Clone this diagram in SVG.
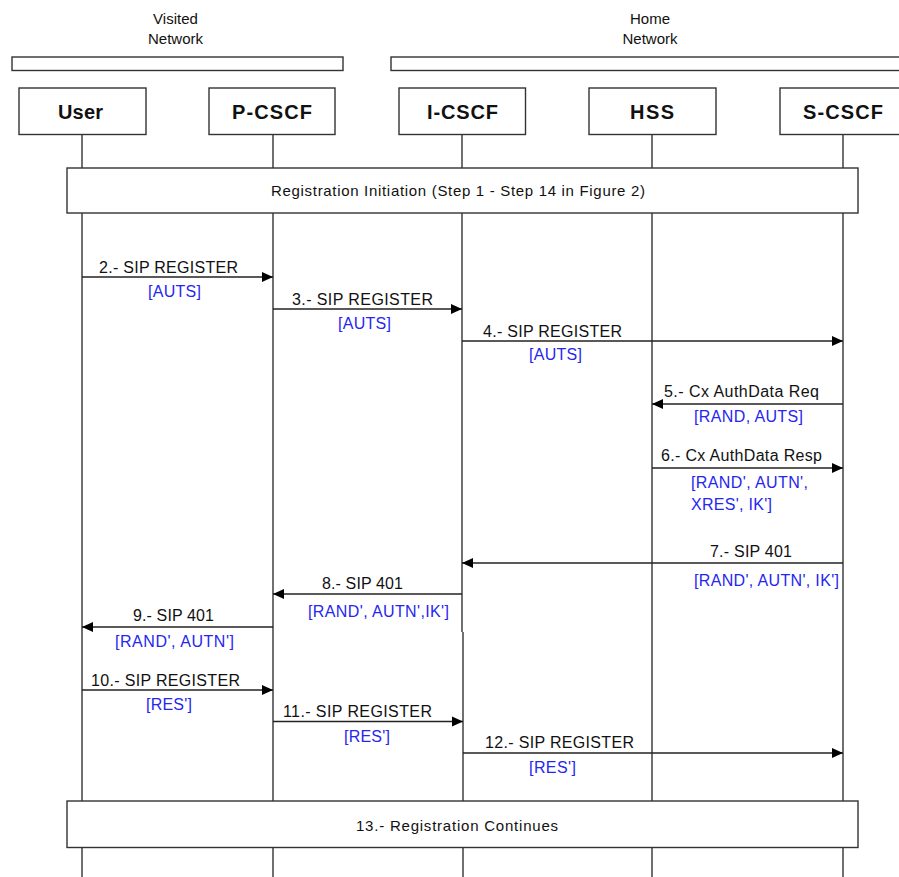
<svg xmlns="http://www.w3.org/2000/svg" width="899" height="877" viewBox="0 0 899 877">
<defs>
<marker id="ah" markerUnits="userSpaceOnUse" markerWidth="12" markerHeight="12" viewBox="0 0 12 12" refX="11" refY="6" orient="auto">
<path d="M0,1 L11,6 L0,11 Z" fill="#000"/>
</marker>
<style>
.box{fill:#fff;stroke:#333;stroke-width:1.4}
.life{stroke:#333;stroke-width:1.4;fill:none}
.msg{stroke:#222;stroke-width:1.4;fill:none;marker-end:url(#ah)}
.t{font-family:"Liberation Sans",Arial,sans-serif;font-size:16px;fill:#111}
.s{font-family:"Liberation Sans",Arial,sans-serif;font-size:15px;fill:#111}
.b{font-family:"Liberation Sans",Arial,sans-serif;font-size:16px;fill:#2626f0}
.n{font-family:"Liberation Sans",Arial,sans-serif;font-size:20px;font-weight:bold;fill:#111}
</style>
</defs>
<rect width="899" height="877" fill="#fff"/>

<g id="networks">
<text class="s" x="175.5" y="24" text-anchor="middle">Visited</text>
<text class="s" x="175.5" y="43.5" text-anchor="middle">Network</text>
<text class="s" x="650" y="24" text-anchor="middle">Home</text>
<text class="s" x="650" y="43.5" text-anchor="middle">Network</text>
<rect class="box" x="12" y="57" width="331" height="13.5"/>
<rect class="box" x="391" y="57" width="530" height="13.5"/>
</g>

<g id="lifelines">
<line class="life" x1="82" y1="134" x2="82" y2="877"/>
<line class="life" x1="273" y1="134" x2="273" y2="877"/>
<line class="life" x1="462" y1="134" x2="462" y2="632"/>
<line class="life" x1="463" y1="632" x2="463" y2="877"/>
<line class="life" x1="652" y1="134" x2="652" y2="877"/>
<line class="life" x1="843" y1="134" x2="843" y2="877"/>
</g>

<g id="User"><rect class="box" x="19" y="88" width="127" height="46.5"/><text class="n" x="58" y="118.5" textLength="45" lengthAdjust="spacing">User</text></g>
<g id="P-CSCF"><rect class="box" x="209" y="88" width="126" height="46.5"/><text class="n" x="232" y="118.5" textLength="80" lengthAdjust="spacing">P-CSCF</text></g>
<g id="I-CSCF"><rect class="box" x="399" y="88" width="126.5" height="46.5"/><text class="n" x="427" y="118.5" textLength="71" lengthAdjust="spacing">I-CSCF</text></g>
<g id="HSS"><rect class="box" x="589" y="88" width="127" height="46.5"/><text class="n" x="630" y="118.5" textLength="44" lengthAdjust="spacing">HSS</text></g>
<g id="S-CSCF"><rect class="box" x="780" y="88" width="130" height="46.5"/><text class="n" x="803" y="118.5" textLength="80" lengthAdjust="spacing">S-CSCF</text></g>

<g id="reg-init"><rect class="box" x="67" y="168" width="791" height="45"/><text class="s" x="271" y="196" textLength="374" lengthAdjust="spacing">Registration Initiation (Step 1 - Step 14 in Figure 2)</text></g>

<g id="connectors">
<line class="msg" x1="82" y1="277" x2="273" y2="277"/>
<line class="msg" x1="273" y1="309" x2="462" y2="309"/>
<line class="msg" x1="462" y1="341" x2="843" y2="341"/>
<line class="msg" x1="843" y1="404" x2="652" y2="404"/>
<line class="msg" x1="652" y1="468" x2="843" y2="468"/>
<line class="msg" x1="843" y1="563" x2="462" y2="563"/>
<line class="msg" x1="462" y1="594" x2="273" y2="594"/>
<line class="msg" x1="273" y1="627" x2="82" y2="627"/>
<line class="msg" x1="82" y1="690" x2="273" y2="690"/>
<line class="msg" x1="273" y1="721.5" x2="463" y2="721.5"/>
<line class="msg" x1="463" y1="753" x2="843" y2="753"/>
</g>

<g id="labels">
<text class="t" x="99" y="273" textLength="139" lengthAdjust="spacing">2.- SIP REGISTER</text>
<text class="b" x="148" y="297" textLength="53" lengthAdjust="spacing">[AUTS]</text>
<text class="t" x="292" y="305" textLength="141" lengthAdjust="spacing">3.- SIP REGISTER</text>
<text class="b" x="338" y="328.5" textLength="53" lengthAdjust="spacing">[AUTS]</text>
<text class="t" x="483" y="337" textLength="139" lengthAdjust="spacing">4.- SIP REGISTER</text>
<text class="b" x="529" y="360" textLength="53" lengthAdjust="spacing">[AUTS]</text>
<text class="t" x="664" y="397" textLength="155" lengthAdjust="spacing">5.- Cx AuthData Req</text>
<text class="b" x="694" y="421.5" textLength="109" lengthAdjust="spacing">[RAND, AUTS]</text>
<text class="t" x="661" y="460.5" textLength="161" lengthAdjust="spacing">6.- Cx AuthData Resp</text>
<text class="b" x="691" y="487.5" textLength="117" lengthAdjust="spacing">[RAND', AUTN',</text>
<text class="b" x="691" y="510" textLength="81" lengthAdjust="spacing">XRES', IK']</text>
<text class="t" x="710" y="557" textLength="82" lengthAdjust="spacing">7.- SIP 401</text>
<text class="b" x="694" y="586" textLength="145" lengthAdjust="spacing">[RAND', AUTN', IK']</text>
<text class="t" x="322" y="589" textLength="81" lengthAdjust="spacing">8.- SIP 401</text>
<text class="b" x="308" y="617" textLength="141" lengthAdjust="spacing">[RAND', AUTN',IK']</text>
<text class="t" x="133" y="621" textLength="81" lengthAdjust="spacing">9.- SIP 401</text>
<text class="b" x="115" y="646.5" textLength="119" lengthAdjust="spacing">[RAND', AUTN']</text>
<text class="t" x="91" y="685.5" textLength="149" lengthAdjust="spacing">10.- SIP REGISTER</text>
<text class="b" x="146" y="710" textLength="46" lengthAdjust="spacing">[RES']</text>
<text class="t" x="283" y="716.5" textLength="149" lengthAdjust="spacing">11.- SIP REGISTER</text>
<text class="b" x="344" y="741.5" textLength="46" lengthAdjust="spacing">[RES']</text>
<text class="t" x="485" y="748" textLength="149" lengthAdjust="spacing">12.- SIP REGISTER</text>
<text class="b" x="529" y="772.5" textLength="47" lengthAdjust="spacing">[RES']</text>
</g>

<g id="reg-continues"><rect class="box" x="67" y="801" width="791" height="46.5"/><text class="s" x="356" y="830.5" textLength="202" lengthAdjust="spacing">13.- Registration Continues</text></g>
</svg>
